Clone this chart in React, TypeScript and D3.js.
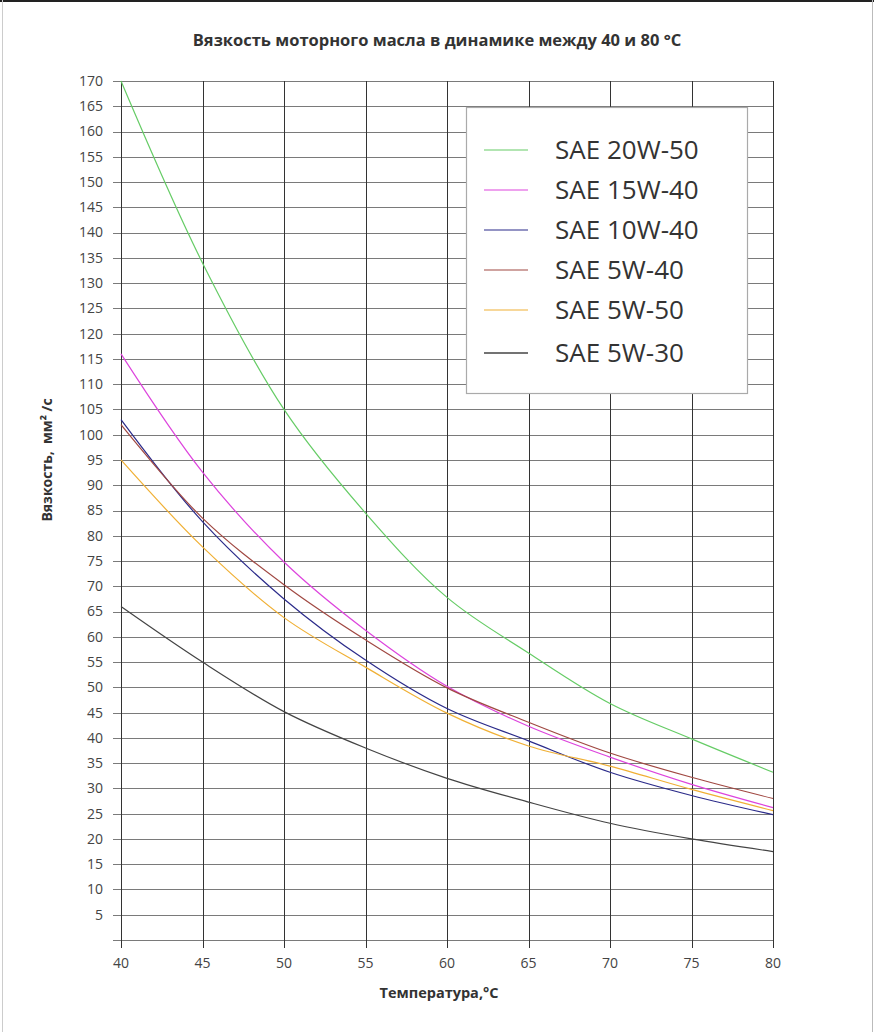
import React, { useEffect, useRef } from "react";
import * as d3 from "d3";

const temps = [40, 45, 50, 55, 60, 65, 70, 75, 80];

const sae20w50 = [170, 134, 105, 84.5, 67.8, 56.8, 46.8, 39.8, 33.2];
const sae15w40 = [116, 92.6, 74.8, 61.3, 50.2, 42.3, 36.2, 30.8, 26.2];
const sae10w40 = [103, 82.8, 67.5, 55.4, 45.8, 39.4, 33.2, 28.6, 24.8];
const sae5w40 = [102, 83.5, 70.3, 59.4, 49.9, 43.1, 37, 32.2, 28];
const sae5w50 = [95, 77.8, 63.8, 54.0, 44.9, 38.4, 34.4, 29.8, 25.6];
const sae5w30 = [66, 55, 45.2, 38, 32, 27.3, 23.1, 20, 17.5];

const seriesNames = ["SAE 20W-50", "SAE 15W-40", "SAE 10W-40", "SAE 5W-40", "SAE 5W-50", "SAE 5W-30"];
const seriesValues = [sae20w50, sae15w40, sae10w40, sae5w40, sae5w50, sae5w30];
const seriesColors = ["#66cc66", "#dd44dd", "#2b2b8a", "#a04842", "#f0b035", "#444444"];

const yTicks = d3.range(5, 171, 5);
const xTicks = temps;

const App: React.FC = () => {
  const svgRef = useRef<SVGSVGElement>(null);

  useEffect(() => {
    const svg = d3.select(svgRef.current);
    svg.selectAll("*").remove();
    const width = 874;
    const height = 1032;
    const margin = { top: 81, right: 101, bottom: 92, left: 121 };
    const font = "'Open Sans', 'Noto Sans', sans-serif";

    svg.append("rect").attr("width", width).attr("height", height).attr("fill", "#fff");

    // frame around the picture
    svg.append("line").attr("x1", 0).attr("x2", width).attr("y1", 1).attr("y2", 1)
      .attr("stroke", "#222").attr("stroke-width", 2);
    svg.append("line").attr("x1", 2.5).attr("x2", 2.5).attr("y1", 0).attr("y2", height)
      .attr("stroke", "#ccc");
    svg.append("line").attr("x1", 872.5).attr("x2", 872.5).attr("y1", 0).attr("y2", height)
      .attr("stroke", "#bbb");

    const x = d3.scaleLinear().domain([40, 80]).range([margin.left, width - margin.right]);
    const y = d3.scaleLinear().domain([0, 170]).range([height - margin.bottom, margin.top]);

    // horizontal gridlines
    svg.append("g")
      .selectAll("line")
      .data([0, ...yTicks])
      .join("line")
      .attr("x1", margin.left - 8)
      .attr("x2", x(80))
      .attr("y1", (d) => Math.round(y(d)) + 0.5)
      .attr("y2", (d) => Math.round(y(d)) + 0.5)
      .attr("stroke", "#7a7a7a")
      .attr("stroke-width", 1.2);

    // vertical gridlines
    svg.append("g")
      .selectAll("line")
      .data(xTicks)
      .join("line")
      .attr("x1", (d) => Math.round(x(d)) + 0.5)
      .attr("x2", (d) => Math.round(x(d)) + 0.5)
      .attr("y1", y(170))
      .attr("y2", y(0) + 8)
      .attr("stroke", "#333")
      .attr("stroke-width", 1);

    // y tick labels
    svg.append("g")
      .selectAll("text")
      .data(yTicks)
      .join("text")
      .attr("x", 103)
      .attr("y", (d) => y(d))
      .attr("dy", "0.35em")
      .attr("text-anchor", "end")
      .style("font-family", font)
      .style("font-size", "14px")
      .attr("fill", "#444")
      .text((d) => d);

    // x tick labels
    svg.append("g")
      .selectAll("text")
      .data(xTicks)
      .join("text")
      .attr("x", (d) => x(d))
      .attr("y", 968)
      .attr("text-anchor", "middle")
      .style("font-family", font)
      .style("font-size", "14px")
      .attr("fill", "#444")
      .text((d) => d);

    // curves
    const line = d3
      .line<number>()
      .x((d, i) => x(temps[i]))
      .y((d) => y(d))
      .curve(d3.curveCatmullRom.alpha(0.5));

    seriesValues.forEach((vals, i) => {
      svg.append("path")
        .datum(vals)
        .attr("fill", "none")
        .attr("stroke", seriesColors[i])
        .attr("stroke-width", 1.2)
        .attr("d", line);
    });

    // legend
    const lg = svg.append("g");
    lg.append("rect")
      .attr("x", 466.5).attr("y", 107.5).attr("width", 281).attr("height", 286)
      .attr("fill", "#fff").attr("stroke", "#aaa").attr("stroke-width", 1.2);
    const rowY = [150, 190, 230, 270, 310, 353];
    seriesNames.forEach((name, i) => {
      lg.append("line")
        .attr("x1", 484).attr("x2", 528)
        .attr("y1", rowY[i]).attr("y2", rowY[i])
        .attr("stroke", seriesColors[i])
        .attr("stroke-width", i === 5 ? 1.6 : 1.2);
      lg.append("text")
        .attr("x", 555).attr("y", rowY[i])
        .attr("dy", "0.35em")
        .style("font-family", font)
        .style("font-size", "26px")
        .attr("fill", "#333")
        .text(name);
    });

    // title
    svg.append("text")
      .attr("x", 437).attr("y", 46)
      .attr("text-anchor", "middle")
      .style("font-family", font)
      .style("font-size", "16.5px")
      .style("font-weight", "bold")
      .attr("fill", "#333")
      .text("Вязкость моторного масла в динамике между 40 и 80 °С");

    // axis titles
    svg.append("text")
      .attr("transform", "translate(52,460) rotate(-90)")
      .attr("text-anchor", "middle")
      .style("font-family", font)
      .style("font-size", "14px")
      .style("font-weight", "bold")
      .attr("fill", "#333")
      .attr("xml:space", "preserve")
      .text("Вязкость,  мм² /с");

    svg.append("text")
      .attr("x", 439).attr("y", 998)
      .attr("text-anchor", "middle")
      .style("font-family", font)
      .style("font-size", "14.5px")
      .style("font-weight", "bold")
      .attr("fill", "#333")
      .text("Температура,°С");
  }, []);

  return (
    <svg
      ref={svgRef}
      width={874}
      height={1032}
      style={{ position: "absolute", left: 0, top: 0, display: "block" }}
    />
  );
};

export default App;
